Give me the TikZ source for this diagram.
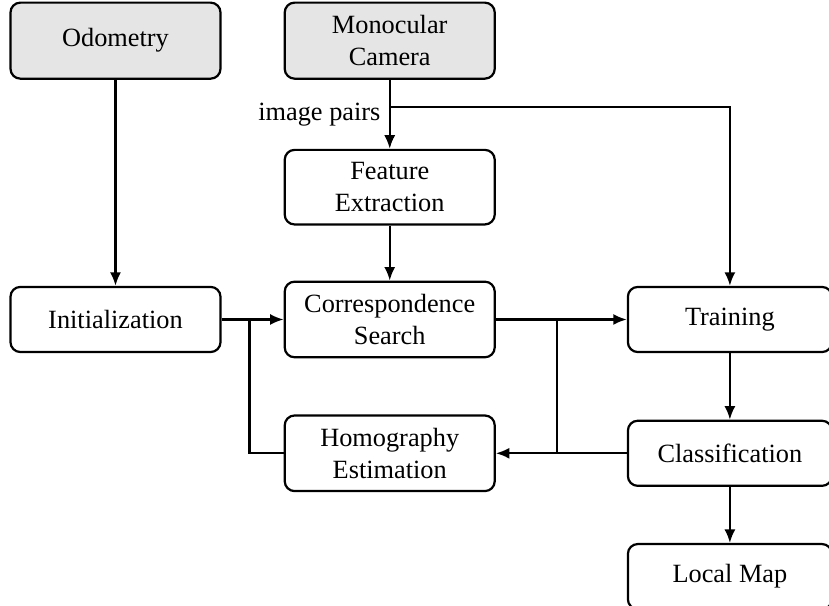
\documentclass[tikz,border=0pt]{standalone}
\usepackage{fontspec}
\setmainfont{Liberation Serif}
\usetikzlibrary{positioning,calc,arrows.meta}

\tikzset{
    block/.style={rectangle, draw, rounded corners=4pt, minimum width=3cm, minimum height=0.93cm, inner ysep=5pt, align=center, font=\fontsize{10.7}{13.2}\selectfont},
    sensor/.style={block, fill=gray!20, minimum height=1.086cm},
    narrow/.style={block, minimum width=2.914cm},
}

\begin{document}
\begin{tikzpicture}[node distance=0.886cm, line width=0.9pt, >={Latex[length=5.5pt,width=4.5pt]}]
    \useasboundingbox (-1.65,-4.093) rectangle (10.193,4.564);
    \node [block] (init) {Initialization};
    \node [block, right=of init] (corr) {Correspondence\\Search};
    \node [block, above=0.786cm of corr] (feat) {Feature\\Extraction};
    \node [sensor, above=0.986cm of feat] (cam) {Monocular\\Camera};
    \node [sensor, left=of cam] (odo) {Odometry};
    \node [narrow, right=1.871cm of corr] (train) {Training};
    \node [block, below=0.8cm of corr] (homo) {Homography\\Estimation};
    \node [narrow, right=1.871cm of homo] (class) {Classification};
    \node [narrow, below=0.8cm of class] (map) {Local Map};

    % branch points
    \coordinate (split) at ($(cam.south)!0.39!(feat.north)$);
    \coordinate (jl) at ($(init.east)!0.45!(corr.west)$);
    \coordinate (jr) at ($(corr.east)!0.47!(train.west)$);

    \draw [->] (odo) -- (init);
    \draw [->] (cam) -- node [left, font=\fontsize{10.7}{13.2}\selectfont] {image pairs} (feat);
    \draw [->] (split) -| (train);
    \draw [->] (feat) -- (corr);
    \draw [->] (init) -- (corr);
    \draw [->] (corr) -- (train);
    \draw (homo) -| (jl);
    \draw [->] (class) -- (homo);
    \draw (jr) -- (jr |- homo);
    \draw [->] (train) -- (class);
    \draw [->] (class) -- (map);
\end{tikzpicture}
\end{document}
